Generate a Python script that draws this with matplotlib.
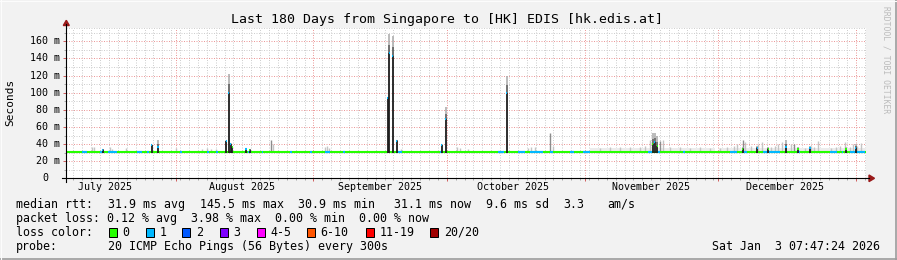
import datetime as dt
import matplotlib
matplotlib.use('Agg')
import matplotlib.pyplot as plt
import matplotlib.dates as mdates
from matplotlib.patches import Rectangle, Polygon
from matplotlib.lines import Line2D

plt.rcParams['font.family'] = 'DejaVu Sans Mono'

# time range of the graph
start = dt.datetime(2025, 7, 7, 7, 47, 24)
end = dt.datetime(2026, 1, 3, 7, 47, 24)

# median rtt baseline (ms)
baseline_rtt = 31.0

# big spikes: day offset from start, median (ms), smoke max (ms), lost pings
spike_day = [8.3, 19.3, 20.7, 36.1, 36.6, 37.1, 37.4, 40.5, 41.3, 72.4, 72.75, 73.5,
             74.4, 84.5, 85.4, 99.2, 132.0, 132.5, 133.0,
             152.3, 155.5, 158.0, 162.0, 164.7, 167.4, 175.5, 177.7]
spike_med = [33.5, 38.5, 36, 43, 100, 40, 36, 34, 33.5, 94, 146, 143,
             44, 39, 69, 100, 40, 42, 38,
             34, 35, 34, 36, 34, 35, 34, 35]
spike_max = [34.5, 39, 45, 44, 122, 41, 37, 35, 34, 95, 168, 166,
             45, 40, 83, 119, 53, 53, 49,
             36, 38, 36, 45, 37, 38, 36, 40]
spike_loss = [1, 1, 1, 1, 1, 1, 0, 1, 0, 1, 1, 1,
              1, 1, 1, 1, 0, 1, 0,
              0, 1, 0, 1, 0, 1, 0, 1]

# faint smoke: day offset, smoke max (ms)
light_day = [5.8, 6.4, 9.8, 10.4, 13.4, 24.8, 30.5, 31.8, 32.7, 33.8, 46.6,
             58.3, 58.7, 59.2, 75.4, 88.0, 88.7, 90.5, 104.0, 104.6, 105.5, 109.5,
             120.2, 122.4, 124.6, 126.9, 129.1, 130.3, 131.4, 134.4, 135.9, 138.2,
             140.4, 142.7, 144.9, 147.2, 148.7, 150.2, 151.0, 152.7, 154.2, 155.7,
             156.5, 158.7, 159.5, 160.2, 161.0, 161.7, 163.2, 164.7, 166.2, 167.7,
             168.4, 169.2, 172.2, 173.3, 174.1, 175.2, 176.3, 177.0, 178.0, 178.9]
light_max = [36, 36, 37, 34, 35, 35, 34, 35, 34, 34, 40,
             36, 38, 35, 34, 36, 35, 34, 35, 37, 36, 38,
             35, 36, 36, 37, 36, 38, 45, 45, 37, 36,
             35, 36, 35, 35, 36, 38, 40, 42, 38, 40,
             42, 37, 38, 40, 42, 38, 40, 36, 35, 38,
             36, 43, 35, 37, 38, 42, 36, 40, 38, 41]

# darker grey smoke: day offset, smoke max (ms)
grey_day = [46.2, 108.8, 133.7, 152.3, 163.7]
grey_max = [45, 53, 43, 45, 40]

# faint haze above the median: start day, end day, top (ms)
haze_start = [118.0, 147.0]
haze_end = [146.0, 180.0]
haze_top = [35.0, 35.5]

# periods where 1 of 20 pings was lost: start day, end day
blue_start = [3.5, 7.6, 9.5, 15.9, 18.3, 25.6, 31.7, 33.8, 41.0, 44.0, 50.4, 54.9,
              58.3, 62.4, 74.7, 84.2, 97.2, 101.7, 104.4, 108.9, 113.4, 116.3,
              131.0, 133.0, 138.8, 149.4, 152.3, 156.8, 164.5, 171.9, 174.6, 176.4]
blue_end = [4.8, 8.6, 11.5, 17.1, 18.7, 26.1, 32.2, 34.2, 41.6, 44.3, 50.9, 55.4,
            59.4, 62.8, 75.6, 84.6, 98.6, 103.3, 107.3, 109.6, 114.4, 117.9,
            131.9, 133.7, 139.3, 151.0, 153.2, 160.7, 165.2, 173.5, 174.8, 179.8]

loss_labels = ['0', '1', '2', '3', '4-5', '6-10', '11-19', '20/20']
loss_colors = ['#26ff00', '#00b8ff', '#0059ff', '#7e00ff', '#ff00ff', '#ff5500', '#ff0000', '#a00000']

W, H = 897, 260


def fx(x):
    return x / W


def fy(y):
    return 1 - y / H


fig = plt.figure(figsize=(W / 100, H / 100), dpi=100, facecolor='#f2f2f2')
ax = fig.add_axes([fx(66), fy(178.3), 800 / W, 149.8 / H], facecolor='white')

t0 = mdates.date2num(start)
t1 = mdates.date2num(end)
ax.set_xlim(t0, t1)
ax.set_ylim(0, 175)
for s in ax.spines.values():
    s.set_visible(False)

# grid
month_starts = [dt.datetime(2025, m, 1) for m in range(8, 13)] + [dt.datetime(2026, 1, 1)]
minor_days = []
d = dt.datetime(2025, 7, 9)
while d < end:
    if d not in month_starts:
        minor_days.append(d)
    d += dt.timedelta(days=2)

dots = (0, (1, 1.5))
for d in minor_days:
    ax.axvline(mdates.date2num(d), color='#cfcfcf', lw=0.72, ls=dots, zorder=1)
for v in list(range(10, 171, 20)) + [175]:
    ax.axhline(v, color='#cfcfcf', lw=0.72, ls=dots, zorder=1)
for d in month_starts:
    ax.axvline(mdates.date2num(d), color='#ec9a9a', lw=0.72, ls=dots, zorder=2)
for v in range(20, 161, 20):
    ax.axhline(v, color='#ec9a9a', lw=0.72, ls=dots, zorder=2)

ax.set_xticks([mdates.date2num(d) for d in month_starts])
ax.set_xticks([mdates.date2num(d) for d in minor_days], minor=True)
ax.set_yticks(range(0, 161, 20))
ax.set_yticks(range(10, 171, 20), minor=True)
ax.tick_params(which='major', length=3 * 0.72, width=0.72, color='#d06060', labelbottom=False, labelleft=False)
ax.tick_params(which='minor', length=2 * 0.72, width=0.72, color='#aaaaaa')

# haze
for a, b, top in zip(haze_start, haze_end, haze_top):
    ax.fill_between([t0 + a, t0 + b], baseline_rtt, top, color='#ececec', lw=0, zorder=3)

# faint and grey smoke
ax.vlines([t0 + x for x in light_day], baseline_rtt, light_max, color='#c4c4c4', lw=1.0, zorder=4)
ax.vlines([t0 + x for x in grey_day], baseline_rtt, grey_max, color='#8c8c8c', lw=1.0, zorder=4)

# median line coloured by loss
ax.hlines(baseline_rtt, t0, t1, color=loss_colors[0], lw=1.5, zorder=5)
ax.hlines([baseline_rtt] * len(blue_start), [t0 + x for x in blue_start], [t0 + x for x in blue_end],
          color=loss_colors[1], lw=1.5, zorder=6)

# dense smoke spikes
for day, med, top, loss in zip(spike_day, spike_med, spike_max, spike_loss):
    x = t0 + day
    mid = med + (top - med) * 0.45
    ax.vlines(x, med, mid, color='#4a4a4a', lw=1.1, zorder=7)
    ax.vlines(x, mid, top, color='#a8a8a8', lw=1.1, zorder=7)
    ax.vlines(x, 30, med, color='#1c1c1c', lw=1.3, zorder=8)
    ax.hlines(med, x - 0.12, x + 0.12, color=loss_colors[loss], lw=1.5, zorder=9)

# y labels
for v in range(0, 161, 20):
    if v == 0:
        ax.text(-18 / 800, v, '0', transform=ax.get_yaxis_transform(), ha='right', va='center', fontsize=7.2)
    else:
        ax.text(-6 / 800, v, f'{v} m', transform=ax.get_yaxis_transform(), ha='right', va='center', fontsize=7.2)

# month labels centred on the 16th
for m, (yy, mm) in enumerate([(2025, 7), (2025, 8), (2025, 9), (2025, 10), (2025, 11), (2025, 12)]):
    lab = dt.datetime(yy, mm, 16)
    ax.text(mdates.date2num(lab), -8.7 / 149.8, lab.strftime('%B %Y'), transform=ax.get_xaxis_transform(),
            ha='center', va='center', fontsize=7.2)

# axis lines and arrows
fig.add_artist(Line2D([fx(62), fx(869)], [fy(178.3), fy(178.3)], color='black', lw=0.8))
fig.add_artist(Line2D([fx(66.3), fx(66.3)], [fy(182), fy(24)], color='black', lw=0.8))
fig.add_artist(Polygon([(fx(869), fy(175)), (fx(874.5), fy(178.3)), (fx(869), fy(181.6))],
                       closed=True, color='#9a1a1a', transform=fig.transFigure))
fig.add_artist(Polygon([(fx(63.3), fy(25.5)), (fx(66.3), fy(20.3)), (fx(69.3), fy(25.5))],
                       closed=True, color='#9a1a1a', transform=fig.transFigure))

# titles
fig.text(fx(447), fy(19), 'Last 180 Days from Singapore to [HK] EDIS [hk.edis.at]',
         ha='center', va='center', fontsize=9.5)
fig.text(fx(10.5), fy(102.5), 'Seconds', rotation=90, ha='center', va='center', fontsize=8)
fig.text(fx(886), fy(60), 'RRDTOOL / TOBI OETIKER', rotation=270, ha='center', va='center',
         fontsize=5.8, color='#bbbbbb')

# legend
lf = 8.4
fig.text(fx(16), fy(204.3), 'median rtt:', va='center', fontsize=lf)
rtt_parts = [(107.5, '31.9 ms avg'), (200, '145.5 ms max'), (297.5, '30.9 ms min'),
             (393.6, '31.1 ms now'), (486, '9.6 ms sd'), (563.5, '3.3'), (607.6, 'am/s')]
for x, s in rtt_parts:
    fig.text(fx(x), fy(204.3), s, va='center', fontsize=lf)
fig.text(fx(16), fy(218.3), 'packet loss: 0.12 % avg  3.98 % max  0.00 % min  0.00 % now',
         va='center', fontsize=lf)
fig.text(fx(16), fy(232.3), 'loss color:', va='center', fontsize=lf)
box_x = [108.7, 145.9, 182, 219.7, 256.9, 307, 366, 430]
for bx, lab, col in zip(box_x, loss_labels, loss_colors):
    fig.add_artist(Rectangle((fx(bx), fy(236.8)), 8 / W, 9 / H, facecolor=col, edgecolor='black',
                             lw=0.72, transform=fig.transFigure))
    fig.text(fx(bx + 13.7), fy(232.3), lab, va='center', fontsize=lf)
fig.text(fx(16), fy(246.3), 'probe:', va='center', fontsize=lf)
fig.text(fx(107.5), fy(246.3), '20 ICMP Echo Pings (56 Bytes) every 300s', va='center', fontsize=lf)
fig.text(fx(880), fy(246.3), 'Sat Jan  3 07:47:24 2026', ha='right', va='center', fontsize=lf)

# frame
fig.add_artist(Line2D([0, 1], [fy(259.3), fy(259.3)], color='#9c9c9c', lw=1.2))
fig.add_artist(Line2D([fx(896.3), fx(896.3)], [0, 1], color='#9c9c9c', lw=1.2))
fig.add_artist(Line2D([0, 1], [fy(0.5), fy(0.5)], color='#fcfcfc', lw=0.8))
fig.add_artist(Line2D([fx(0.5), fx(0.5)], [0, 1], color='#fcfcfc', lw=0.8))

fig.savefig('out.png', dpi=100, facecolor=fig.get_facecolor())
